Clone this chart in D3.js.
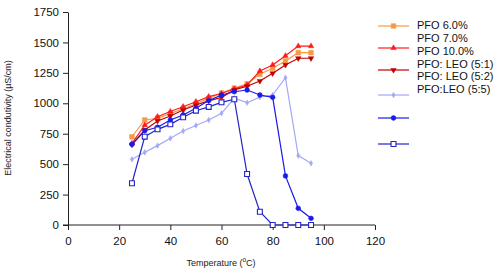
<!DOCTYPE html>
<html>
<head>
<meta charset="utf-8">
<script src="https://cdn.jsdelivr.net/npm/d3@7"></script>
<style>
body { margin: 0; background: #fff; }
text { font-family: "Liberation Sans", Arial, sans-serif; }
</style>
</head>
<body>
<div id="chart"></div>
<script>
// temperatures (°C)
var temps = [25, 30, 35, 40, 45, 50, 55, 60, 65, 70, 75, 80, 85, 90, 95];

// conductivity values (µS/cm)
var pfo6 = [725, 863, 877, 915, 955, 995, 1040, 1085, 1125, 1160, 1238, 1288, 1348, 1416, 1416];
var pfo10 = [670, 820, 890, 932, 972, 1013, 1055, 1080, 1118, 1150, 1265, 1315, 1390, 1470, 1470];
var leo51 = [660, 780, 855, 896, 945, 986, 1020, 1049, 1110, 1140, 1183, 1246, 1315, 1370, 1370];
var leo55 = [540, 597, 652, 712, 772, 818, 863, 918, 1041, 1005, 1050, 1068, 1210, 570, 507];
var blueDot = [663, 775, 803, 863, 904, 959, 1022, 1068, 1095, 1109, 1068, 1049, 403, 137, 55];
var blueSq = [343, 726, 786, 827, 885, 939, 970, 1008, 1033, 419, 109, 0, 0, 0, 0];

var legendLabels = ["PFO 6.0%", "PFO 7.0%", "PFO 10.0%", "PFO: LEO (5:1)", "PFO: LEO (5:2)", "PFO:LEO (5:5)"];
var xTicks = [0, 20, 40, 60, 80, 100, 120];
var yTicks = [0, 250, 500, 750, 1000, 1250, 1500, 1750];

var series = [
    {values: pfo6, color: "#f79a45", symbol: d3.symbolSquare, size: 22, fill: true},
    {values: pfo10, color: "#ff1a1a", symbol: d3.symbolTriangle, size: 13, fill: true},
    {values: leo51, color: "#c00000", symbol: "tridown", size: 13, fill: true},
    {values: leo55, color: "#a3a8f5", symbol: d3.symbolDiamond, size: 9, fill: true},
    {values: blueDot, color: "#1a1aeb", symbol: d3.symbolCircle, size: 18, fill: true},
    {values: blueSq, color: "#2323c8", symbol: d3.symbolSquare, size: 24, fill: false}
];

var svg = d3.select("#chart").append("svg")
    .attr("width", 500)
    .attr("height", 273);

var x = d3.scaleLinear().domain([0, 120]).range([68, 375]);
var y = d3.scaleLinear().domain([0, 1750]).range([225, 12]);

// axes
var gx = svg.append("g")
    .attr("transform", "translate(0," + y(0) + ")")
    .call(d3.axisBottom(x).tickValues(xTicks).tickFormat(d3.format("d")).tickSize(5).tickSizeOuter(0));
var gy = svg.append("g")
    .attr("transform", "translate(" + x(0) + ",0)")
    .call(d3.axisLeft(y).tickValues(yTicks).tickFormat(d3.format("d")).tickSize(5).tickSizeOuter(0));
gx.select(".domain").attr("d", "M" + (x(0) - 5) + ",0H" + x(120));
[gx, gy].forEach(function(g){
    g.selectAll("path, line").attr("stroke", "#222").attr("stroke-width", 1);
    g.selectAll("text").attr("font-size", 11.5).attr("fill", "#111")
        .attr("font-family", "Liberation Sans, Arial, sans-serif");
});
gx.selectAll("text").attr("dy", "1em");
gy.selectAll("text").attr("dx", "-1px");

// axis titles
svg.append("text")
    .attr("transform", "translate(11," + 118 + ") rotate(-90)")
    .attr("text-anchor", "middle")
    .attr("font-size", 9)
    .attr("fill", "#222")
    .text("Electrical condutivity (µS/cm)");

var xt = svg.append("text")
    .attr("x", 221)
    .attr("y", 266)
    .attr("text-anchor", "middle")
    .attr("font-size", 9)
    .attr("fill", "#222");
xt.append("tspan").text("Temperature (");
xt.append("tspan").attr("dy", -4).attr("font-size", 6.5).text("o");
xt.append("tspan").attr("dy", 4).text("C)");

function symPath(s, size) {
    if (s === "tridown") {
        return d3.symbol().type(d3.symbolTriangle).size(size)();
    }
    return d3.symbol().type(s).size(size)();
}

var line = d3.line()
    .x(function(d, i){ return x(temps[i]); })
    .y(function(d){ return y(d); });

series.forEach(function(s){
    svg.append("path")
        .datum(s.values)
        .attr("d", line)
        .attr("fill", "none")
        .attr("stroke", s.color)
        .attr("stroke-width", 1.2);
    svg.selectAll(null)
        .data(s.values)
        .enter().append("path")
        .attr("d", symPath(s.symbol, s.size))
        .attr("transform", function(d, i){
            return "translate(" + x(temps[i]) + "," + y(d) + ")" + (s.symbol === "tridown" ? " rotate(180)" : "");
        })
        .attr("fill", s.fill ? s.color : "#fff")
        .attr("stroke", s.color)
        .attr("stroke-width", s.fill ? 0.5 : 1.1);
});

// legend: symbol rows and text rows are spaced differently, as in the picture
var legendSymY = [26, 48, 70, 95, 118, 144];
series.forEach(function(s, i){
    var ly = legendSymY[i];
    svg.append("line")
        .attr("x1", 378).attr("x2", 409)
        .attr("y1", ly).attr("y2", ly)
        .attr("stroke", s.color).attr("stroke-width", 1.2);
    svg.append("path")
        .attr("d", symPath(s.symbol, s.size))
        .attr("transform", "translate(393.5," + ly + ")" + (s.symbol === "tridown" ? " rotate(180)" : ""))
        .attr("fill", s.fill ? s.color : "#fff")
        .attr("stroke", s.color)
        .attr("stroke-width", s.fill ? 0.5 : 1.1);
});
legendLabels.forEach(function(t, i){
    svg.append("text")
        .attr("x", 417)
        .attr("y", 25 + i * 12.9)
        .attr("dy", "0.35em")
        .attr("font-size", 11)
        .attr("fill", "#111")
        .text(t);
});
</script>
</body>
</html>
